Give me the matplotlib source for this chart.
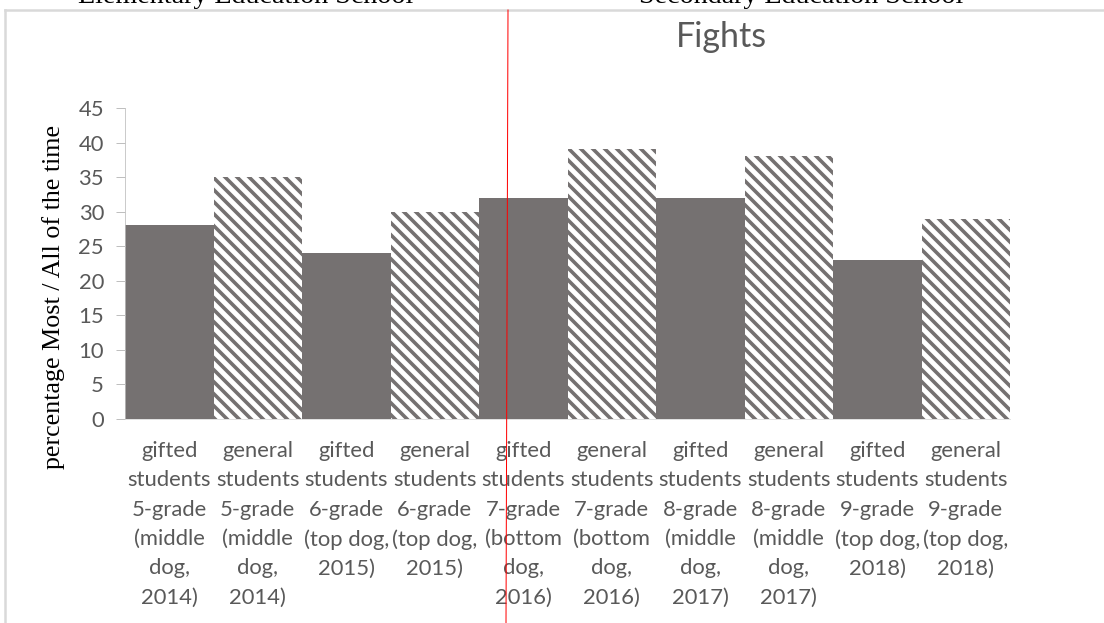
import matplotlib
matplotlib.use('Agg')
import matplotlib.pyplot as plt
from matplotlib.lines import Line2D

# values
categories = [
    'gifted\nstudents\n5-grade\n(middle\ndog,\n2014)',
    'general\nstudents\n5-grade\n(middle\ndog,\n2014)',
    'gifted\nstudents\n6-grade\n(top dog,\n2015)',
    'general\nstudents\n6-grade\n(top dog,\n2015)',
    'gifted\nstudents\n7-grade\n(bottom\ndog,\n2016)',
    'general\nstudents\n7-grade\n(bottom\ndog,\n2016)',
    'gifted\nstudents\n8-grade\n(middle\ndog,\n2017)',
    'general\nstudents\n8-grade\n(middle\ndog,\n2017)',
    'gifted\nstudents\n9-grade\n(top dog,\n2018)',
    'general\nstudents\n9-grade\n(top dog,\n2018)',
]
values = [28, 35, 24, 30, 32, 39, 32, 38, 23, 29]
hatched = [False, True, False, True, False, True, False, True, False, True]
y_ticks = [0, 5, 10, 15, 20, 25, 30, 35, 40, 45]

W, H = 1104, 623
DPI = 72
bar_col = '#757171'
txt_col = '#595959'

plt.rcParams['hatch.linewidth'] = 3.6
fig = plt.figure(figsize=(W / DPI, H / DPI), dpi=DPI)
ax = fig.add_axes([125 / W, 1 - 419 / H, 885 / W, 311 / H])

for i, (v, h) in enumerate(zip(values, hatched)):
    if h:
        ax.bar(i, v, width=1.0, color='white', edgecolor=bar_col, hatch='\\\\', linewidth=0)
    else:
        ax.bar(i, v, width=1.0, color=bar_col, linewidth=0)

ax.set_xlim(-0.5, len(values) - 0.5)
ax.set_ylim(0, 45)
ax.set_yticks(y_ticks)
ax.set_xticks(range(len(categories)))
ax.set_xticklabels(categories, fontfamily='Lato', fontsize=22, color=txt_col,
                   linespacing=1.58)
ax.tick_params(axis='x', length=0, pad=22)
ax.tick_params(axis='y', direction='out', length=9, width=1, color='#bfbfbf',
               pad=12, labelsize=22, labelcolor=txt_col)
for lab in ax.get_yticklabels():
    lab.set_fontfamily('Lato')

for s in ['top', 'right']:
    ax.spines[s].set_visible(False)
ax.spines['left'].set_color('#bfbfbf')
ax.spines['bottom'].set_color('#d9d9d9')

ax.set_ylabel('percentage Most / All of the time', fontfamily='Liberation Serif',
              fontsize=26, color='black')
ax.yaxis.set_label_coords(-0.068, 0.392)

# chart title, placed like the original (off centre)
fig.text(721 / W, 1 - 37 / H, 'Fights', fontfamily='Lato', fontsize=34,
         color=txt_col, ha='center', va='center')

# chart frame and the red divider
fig.add_artist(Line2D([5 / W, 1], [1 - 10 / H, 1 - 10 / H], color='#d9d9d9',
                      lw=2.5, transform=fig.transFigure))
fig.add_artist(Line2D([5 / W, 5 / W], [0, 1 - 10 / H], color='#d9d9d9',
                      lw=2.5, transform=fig.transFigure))
fig.add_artist(Line2D([508 / W, 506 / W], [1 - 10 / H, 0], color='red',
                      lw=1, transform=fig.transFigure))

# school headings, cut at the top edge as in the source
fig.text(246 / W, 1 - 3 / H, 'Elementary Education School', fontfamily='Liberation Serif',
         fontsize=28, color='black', ha='center', va='baseline')
fig.text(801 / W, 1 - 3 / H, 'Secondary Education School', fontfamily='Liberation Serif',
         fontsize=28, color='black', ha='center', va='baseline')

fig.savefig('out.png', dpi=DPI)
